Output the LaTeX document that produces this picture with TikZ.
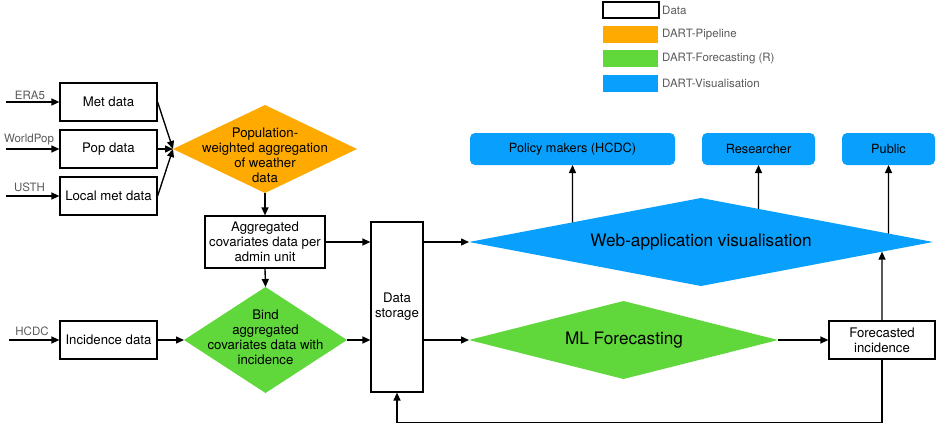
\documentclass[tikz,border=0pt]{standalone}
\usepackage{fontspec}
\setmainfont{TeX Gyre Heros}
\usetikzlibrary{arrows.meta,shapes.geometric}
\definecolor{orangeP}{RGB}{255,170,0}
\definecolor{greenF}{RGB}{96,216,60}
\definecolor{blueV}{RGB}{8,160,252}
\definecolor{labgray}{RGB}{90,90,90}
\begin{document}
\begin{tikzpicture}[x=1pt,y=-1pt,
 every node/.style={font=\fontsize{13.2}{15}\selectfont},
 databox/.style={draw=black, line width=1.2pt, fill=white, inner sep=2pt, align=center},
 dia/.style={diamond, inner sep=0pt, outer sep=0pt, draw=none},
 vis/.style={fill=blueV, rounded corners=5pt, minimum height=32pt, inner sep=0pt, outer sep=0pt, font=\fontsize{12.7}{15}\selectfont},
 arr/.style={line width=1.35pt, -{Triangle[length=8pt,width=7pt]}},
 src/.style={text=labgray, font=\fontsize{11.5}{13}\selectfont, inner sep=0pt},
 leg/.style={text=labgray, font=\fontsize{11.5}{13}\selectfont, anchor=west, inner sep=0pt},
 txt/.style={align=center, inner sep=0pt},
 swatch/.style={minimum width=55pt, minimum height=17pt, inner sep=0pt}
]
\useasboundingbox (0,0) rectangle (936,423);

% legend
\node[draw=black, line width=1.5pt, minimum width=56pt, minimum height=16pt, inner sep=0pt] (lg1) at (631,10) {};
\node[leg] (lt1) at (662,10) {Data};
\node[swatch, fill=orangeP] (lg2) at (630.5,34.5) {};
\node[leg] (lt2) at (662,34.5) {DART-Pipeline};
\node[swatch, fill=greenF] (lg3) at (630.5,58.5) {};
\node[leg] (lt3) at (662,58.5) {DART-Forecasting (R)};
\node[swatch, fill=blueV] (lg4) at (630.5,83.5) {};
\node[leg] (lt4) at (662,83.5) {DART-Visualisation};

% input data boxes
\node[databox, minimum width=97pt, minimum height=38pt] (met) at (108.5,102) {Met data};
\node[databox, minimum width=97pt, minimum height=38pt] (pop) at (108.5,149) {Pop data};
\node[databox, minimum width=97pt, minimum height=38pt] (loc) at (108.5,196) {Local met data};
\node[databox, minimum width=97pt, minimum height=38pt] (inc) at (108.5,340) {Incidence data};

% sources
\coordinate (era) at (6,102);
\coordinate (wp) at (6,149);
\coordinate (usth) at (6,196);
\coordinate (hc) at (9,340);
\node[src] (eral) at (30,95) {ERA5};
\node[src] (wpl) at (29,140) {WorldPop};
\node[src] (usthl) at (29.5,187) {USTH};
\node[src] (hcl) at (32,331) {HCDC};
\draw[arr] (era) -- (met.west);
\draw[arr] (wp) -- (pop.west);
\draw[arr] (usth) -- (loc.west);
\draw[arr] (hc) -- (inc.west);

% pipeline diamond
\node[dia, fill=orangeP, minimum width=184pt, minimum height=88pt] (popw) at (265,149) {};
\node[txt] (popwt) at (265,155.5) {Population-\\weighted aggregation\\of weather\\data};
\draw[arr] (met.east) -- (popw.west);
\draw[arr] (pop.east) -- (popw.west);
\draw[arr] (loc.east) -- (popw.west);

% aggregated
\node[databox, minimum width=120pt, minimum height=52pt] (agg) at (265,242) {Aggregated\\covariates data per\\admin unit};
\draw[arr] (popw.south) -- (agg.north);

% bind diamond
\node[dia, fill=greenF, minimum width=163pt, minimum height=106pt] (bind) at (265.5,340) {};
\node[txt] (bindt) at (265.5,337.5) {Bind\\aggregated\\covariates data with\\incidence};
\draw[arr] (agg.south) -- (bind.north);
\draw[arr] (inc.east) -- (bind.west);

% data storage
\node[databox, minimum width=52pt, minimum height=170pt] (ds) at (397,307) {Data\\storage};
\draw[arr] (agg.east) -- (agg.east -| ds.west);
\draw[arr] (bind.east) -- (bind.east -| ds.west);

% web visualisation
\node[dia, fill=blueV, minimum width=464pt, minimum height=88pt] (web) at (701,242) {};
\node[txt, font=\fontsize{17.2}{20}\selectfont] (webt) at (701,242) {Web-application visualisation};
\draw[arr] (web.west -| ds.east) -- (web.west);

% ML forecasting
\node[dia, fill=greenF, minimum width=309pt, minimum height=78pt] (ml) at (623.5,340) {};
\node[txt, font=\fontsize{17.2}{20}\selectfont] (mlt) at (624,340) {ML Forecasting};
\draw[arr] (ml.west -| ds.east) -- (ml.west);

% forecasted incidence
\node[databox, minimum width=106pt, minimum height=38pt] (fc) at (882,340) {Forecasted\\incidence};
\draw[arr] (ml.east) -- (fc.west);

% audiences
\node[vis, minimum width=205pt] (pol) at (572.5,149) {Policy makers (HCDC)};
\node[vis, minimum width=113pt] (res) at (758.5,149) {Researcher};
\node[vis, minimum width=93pt] (pub) at (888.5,149) {Public};

\coordinate (pb) at (pol.south |- web.south);
\coordinate (pe) at (intersection of pol.south--pb and web.west--web.north);
\draw[arr] (pe) -- (pol.south);
\coordinate (rb) at (res.south |- web.south);
\coordinate (rese) at (intersection of res.south--rb and web.north--web.east);
\draw[arr] (rese) -- (res.south);
\coordinate (ub) at (pub.south |- web.south);
\coordinate (ue) at (intersection of pub.south--ub and web.north--web.east);
\draw[arr] (ue) -- (pub.south);
\coordinate (fa) at (fc.north |- web.north);
\coordinate (fe) at (intersection of fc.north--fa and web.south--web.east);
\draw[arr] (fc.north) -- (fe);

% feedback loop
\draw[arr] (fc.south) -- ++(0,63) -| (ds.south);
\end{tikzpicture}
\end{document}
